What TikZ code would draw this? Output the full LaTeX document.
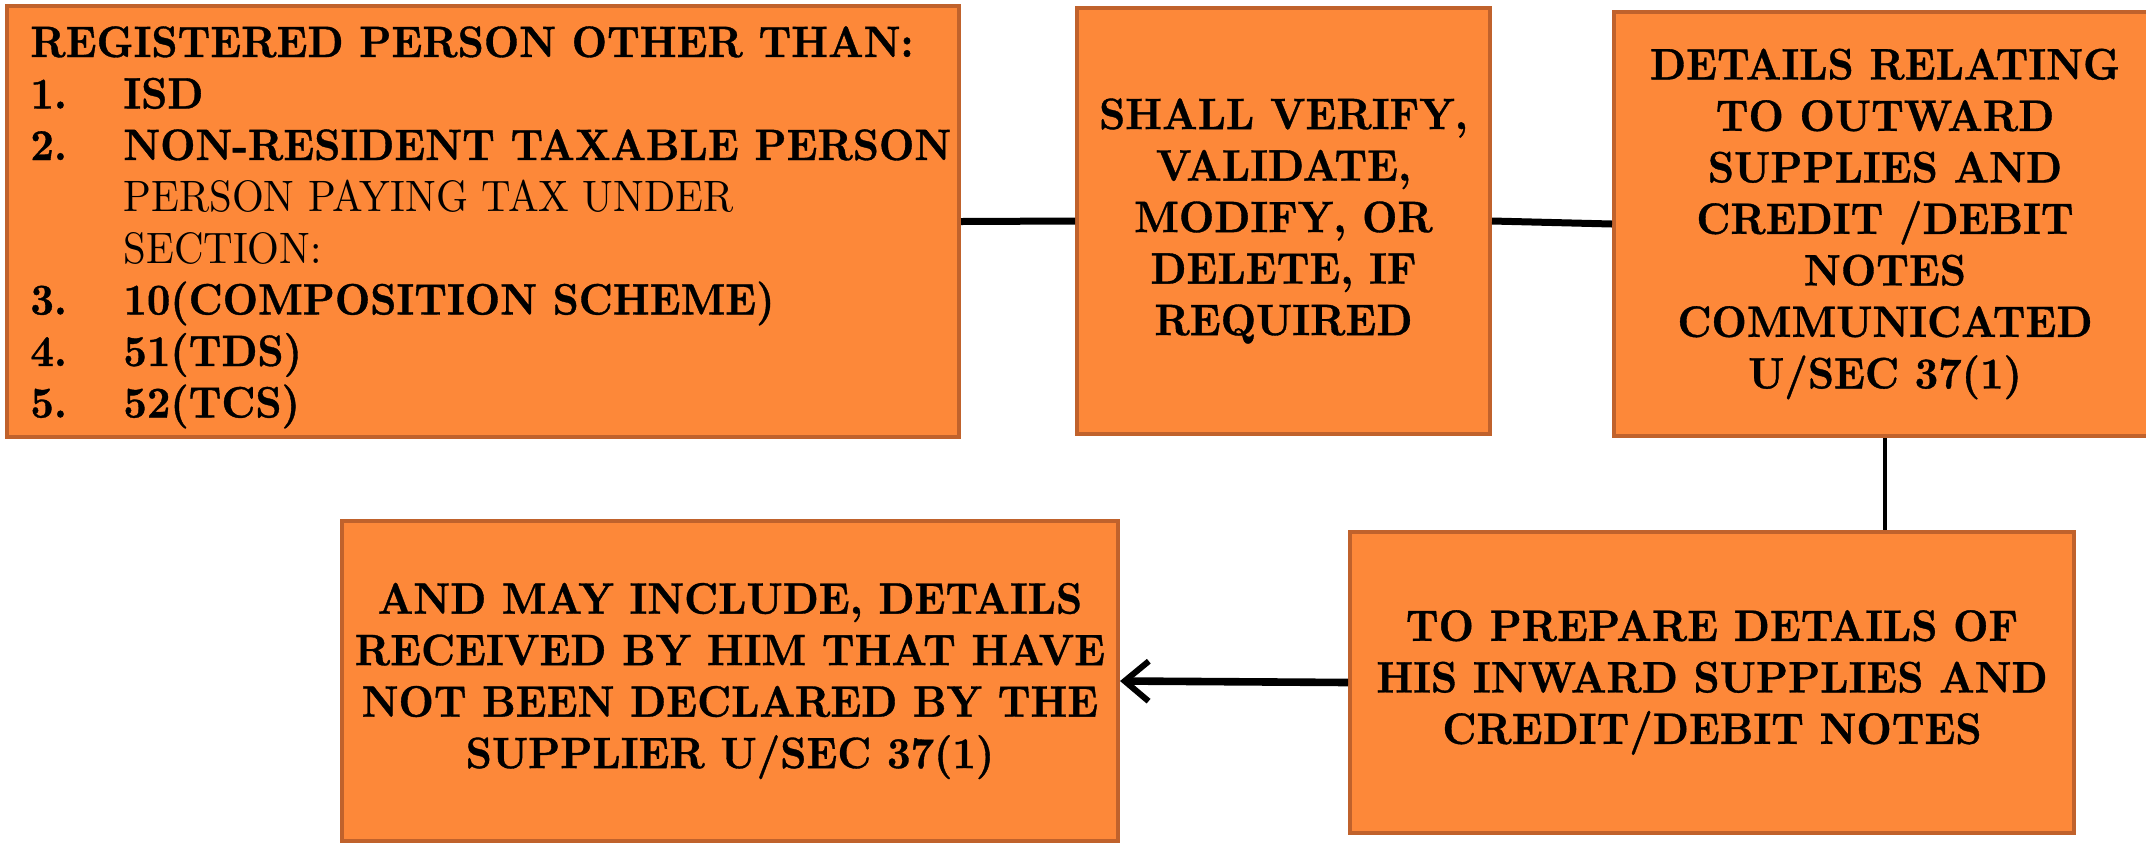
\documentclass[tikz,border=0pt]{standalone}
\usepackage{fontspec}
\setmainfont{lmroman10-regular.otf}[BoldFont=lmroman10-bold.otf, FakeStretch=0.93, BoldFeatures={FakeBold=0.8}]
\usetikzlibrary{arrows.meta}
\definecolor{boxfill}{RGB}{253,136,57}
\definecolor{boxline}{RGB}{192,98,44}
\begin{document}
\begin{tikzpicture}[x=0.5pt,y=-0.5pt,
  box/.style={draw=boxline, fill=boxfill, line width=2pt, inner sep=0pt},
  txt/.style={font=\fontsize{22}{25.75}\selectfont\bfseries, align=center, text=black},
  link/.style={line width=3.5pt, black},
  vlink/.style={line width=2.2pt, black},
  arr/.style={line width=3.8pt, black, -{Straight Barb[length=12pt,width=20pt,line width=3pt]}}]
\useasboundingbox (0,0) rectangle (2146,842);
\node[box, minimum width=476pt, minimum height=215.5pt] (b1) at (483,221.5) {};
\node[anchor=base west, inner sep=0pt, font=\fontsize{22}{25.75}\selectfont\bfseries] (t1) at (30,57)
{\begin{tabular}[t]{@{}p{46.5pt}@{}l@{}}
\multicolumn{2}{@{}l@{}}{REGISTERED PERSON OTHER THAN:}\\
1. & ISD\\
2. & NON-RESIDENT TAXABLE PERSON\\
 & \mdseries PERSON PAYING TAX UNDER\\
 & \mdseries SECTION:\\
3. & 10(COMPOSITION SCHEME)\\
4. & 51(TDS)\\
5. & 52(TCS)
\end{tabular}};
\node[box, txt, minimum width=206.5pt, minimum height=213pt] (b2) at (1283.5,221)
  {SHALL VERIFY,\\VALIDATE,\\MODIFY, OR\\DELETE, IF\\REQUIRED};
\node[box, txt, minimum width=271pt, minimum height=212pt] (b3) at (1885,224)
  {DETAILS RELATING\\TO OUTWARD\\SUPPLIES AND\\CREDIT /DEBIT\\NOTES\\COMMUNICATED\\U/SEC 37(1)};
\node[box, txt, minimum width=362pt, minimum height=150.5pt] (b4) at (1712,682.5)
  {TO PREPARE DETAILS OF\\HIS INWARD SUPPLIES AND\\CREDIT/DEBIT NOTES};
\node[box, txt, minimum width=388pt, minimum height=160pt] (b5) at (730,681)
  {AND MAY INCLUDE, DETAILS\\RECEIVED BY HIM THAT HAVE\\NOT BEEN DECLARED BY THE\\SUPPLIER U/SEC 37(1)};
\draw[link] (b1.east) -- (b2.west);
\draw[link] (b2.east) -- (b3.west);
\draw[vlink] (b3.south) -- (b4.north -| b3.south);
\draw[arr] (b4.west) -- (b5.east);
\end{tikzpicture}
\end{document}
